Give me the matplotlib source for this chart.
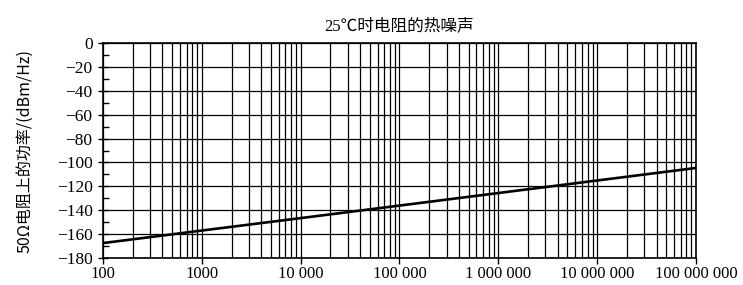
import numpy as np
import matplotlib.pyplot as plt
from matplotlib.ticker import FixedLocator, MultipleLocator, NullFormatter

plt.rcParams["font.family"] = ["Liberation Serif", "Noto Sans CJK SC", "DejaVu Sans"]

# values
freq_hz = [100, 1e3, 1e4, 1e5, 1e6, 1e7, 1e8]
power_dbm = [-167.5, -157.0, -146.6, -136.1, -125.6, -115.1, -104.6]

x_ticks = [100, 1e3, 1e4, 1e5, 1e6, 1e7, 1e8]
x_labels = ["100", "1000", "10 000", "100 000", "1 000 000", "10 000 000", "100 000 000"]
y_ticks = list(range(-180, 1, 20))

fig = plt.figure(figsize=(7.43, 2.85), dpi=100)
ax = fig.add_axes([0.1386, 0.0947, 0.7981, 0.7543])

ax.plot(freq_hz, power_dbm, color="black", lw=1.9, zorder=3)

ax.set_xscale("log")
ax.set_xlim(100, 1e8)
ax.set_ylim(-180, 0)

minor_x = [m * 10.0 ** e for e in range(2, 8) for m in range(2, 10)]
ax.xaxis.set_major_locator(FixedLocator(x_ticks))
ax.xaxis.set_minor_locator(FixedLocator(minor_x))
ax.xaxis.set_minor_formatter(NullFormatter())
ax.set_xticklabels(x_labels)

ax.yaxis.set_major_locator(FixedLocator(y_ticks))
ax.yaxis.set_minor_locator(MultipleLocator(10))
ax.set_yticklabels(["\u2212" + str(-v) if v < 0 else str(v) for v in y_ticks])

ax.grid(True, which="major", color="black", lw=0.9)
ax.grid(True, which="minor", axis="x", color="black", lw=0.9)

ax.tick_params(axis="x", which="major", direction="out", length=4, width=1, labelsize=12, pad=2)
ax.tick_params(axis="x", which="minor", length=0)
ax.tick_params(axis="y", which="major", direction="inout", length=7, width=1, labelsize=12.5, pad=4)
ax.tick_params(axis="y", which="minor", direction="in", length=4, width=1)

for s in ax.spines.values():
    s.set_color("black")
    s.set_linewidth(1.2)

ax.set_title("25℃时电阻的热噪声", fontsize=12, pad=9)
ax.set_ylabel("50Ω电阻上的功率/(dBm/Hz)", fontsize=11.5, labelpad=17,
              family=["Noto Sans CJK SC", "DejaVu Sans"])

fig.savefig("out.png", dpi=100)
